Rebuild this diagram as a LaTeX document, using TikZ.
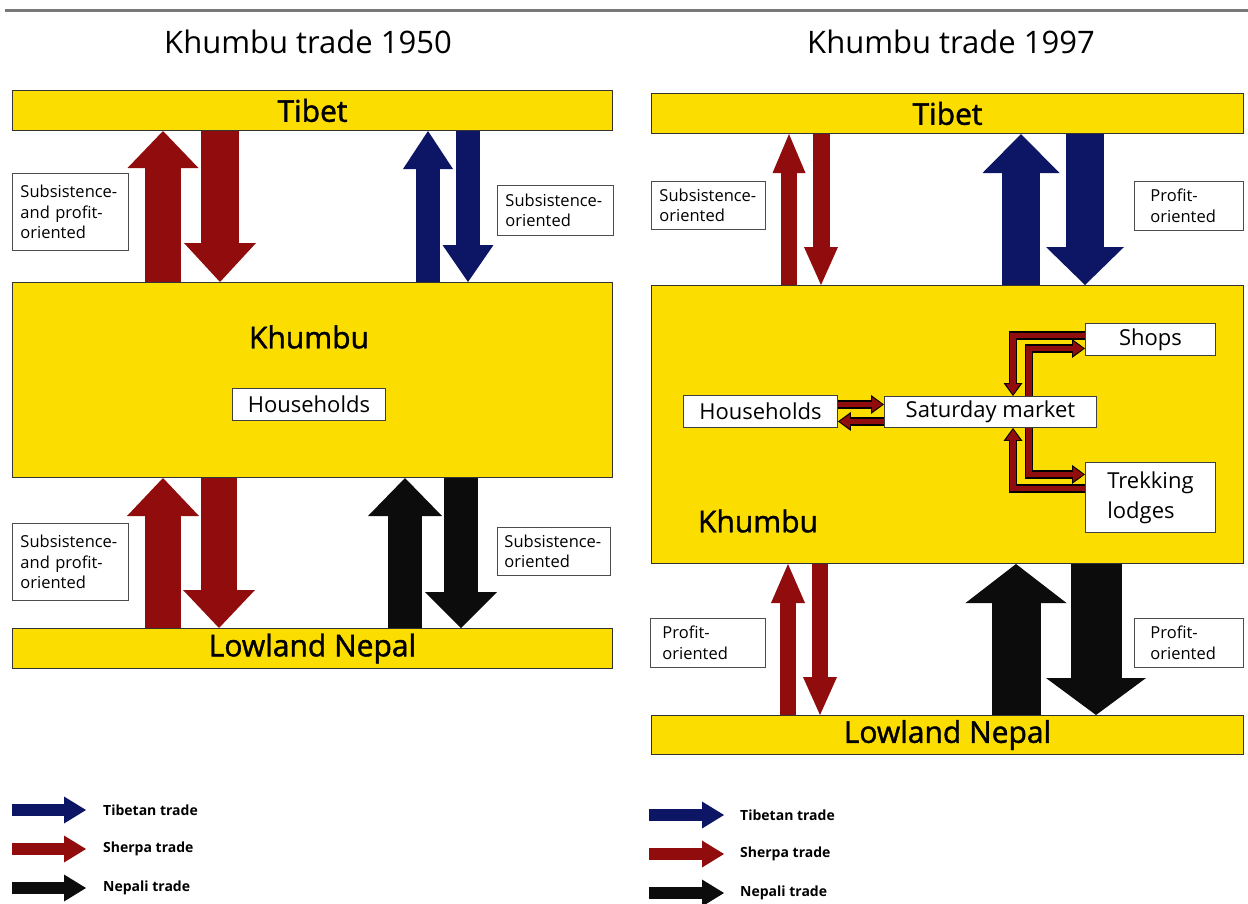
\documentclass[tikz,border=0pt]{standalone}
\usepackage{fontspec}
\setmainfont{Open Sans}
\newfontfamily\semibf[FakeBold=1.4]{Open Sans}
\usetikzlibrary{arrows.meta,calc}
\definecolor{kyellow}{RGB}{252,221,0}
\definecolor{kred}{RGB}{145,12,12}
\definecolor{kblue}{RGB}{12,22,100}
\definecolor{kblack}{RGB}{12,12,12}
\definecolor{kline}{RGB}{120,120,120}
\tikzset{
  bar/.style={draw=black!80,line width=1pt,fill=kyellow,inner sep=0pt,anchor=north west,font=\semibf\fontsize{30}{34}\selectfont},
  lab/.style={draw=black!70,line width=0.9pt,fill=white,anchor=north west,inner ysep=0pt,inner xsep=#1,align=left,font=\fontsize{16.5}{20.5}\selectfont},
  lab/.default=8pt,
  wbox/.style={draw=black!75,line width=0.9pt,fill=white,inner sep=0pt,anchor=north west,align=left,font=\fontsize{22}{30}\selectfont},
  bigtxt/.style={font=\semibf\fontsize{30}{34}\selectfont},
  ttl/.style={font=\fontsize{31}{36}\selectfont},
  legtxt/.style={anchor=west,inner sep=0pt,font=\bfseries\fontsize{14}{16}\selectfont},
  blk/.style n args={3}{line width=#1,-{Triangle[width=#2,length=#3,line width=0pt]}},
  connout/.style={draw=black,line width=8.5pt,-{Triangle[length=13pt,width=19pt,line width=0pt]}},
  connin/.style={draw=kred,line width=5.5pt,-{Triangle[length=10.5pt,width=14.5pt,line width=0pt]},shorten >=1.6pt}
}
\newcommand\kconn[1]{\draw[connout] #1; \draw[connin] #1;}
\begin{document}
\begin{tikzpicture}[x=1pt,y=-1pt]
\useasboundingbox (0,0) rectangle (1248,903);
\fill[white] (0,0) rectangle (1248,903);
% top rule
\draw[kline,line width=3pt] (5,10) -- (1248,10);

% ================= 1950 =================
\node[ttl] (ttlL) at (308,42) {Khumbu trade 1950};
\node[bar,minimum width=600pt,minimum height=40pt] (tibL) at (12,90) {Tibet};
\node[bar,minimum width=600pt,minimum height=195pt] (khL) at (12,282) {};
\node[bigtxt] (khLt) at (309,337) {Khumbu};
\node[wbox,minimum width=153pt,minimum height=32pt] (hhL) at (232,388) {Households};
\node[bar,minimum width=600pt,minimum height=40pt] (nepL) at (12,628) {Lowland Nepal};

\coordinate (xa1) at (163,0);
\coordinate (xa2) at (220,0);
\coordinate (xa3) at (428,0);
\coordinate (xa4) at (468,0);
\coordinate (xb1) at (163,0);
\coordinate (xb2) at (219,0);
\coordinate (xb3) at (405,0);
\coordinate (xb4) at (461,0);

\draw[blk={36pt}{71pt}{37pt},kred] (xa1 |- khL.north) -- (xa1 |- tibL.south);
\draw[blk={38pt}{72pt}{39pt},kred] (xa2 |- tibL.south) -- (xa2 |- khL.north);
\draw[blk={24pt}{50pt}{38pt},kblue] (xa3 |- khL.north) -- (xa3 |- tibL.south);
\draw[blk={24pt}{51pt}{37pt},kblue] (xa4 |- tibL.south) -- (xa4 |- khL.north);

\draw[blk={36pt}{72pt}{38pt},kred] (xb1 |- nepL.north) -- (xb1 |- khL.south);
\draw[blk={36pt}{72pt}{38pt},kred] (xb2 |- khL.south) -- (xb2 |- nepL.north);
\draw[blk={34pt}{74pt}{38pt},kblack] (xb3 |- nepL.north) -- (xb3 |- khL.south);
\draw[blk={34pt}{72pt}{36pt},kblack] (xb4 |- khL.south) -- (xb4 |- nepL.north);

\node[lab,text width=100pt,minimum height=77pt] (lab1) at (12,173) {Subsistence-\\and profit-\\oriented};
\node[lab,text width=100pt,minimum height=50pt] (lab2) at (497,185) {Subsistence-\\oriented};
\node[lab,text width=100pt,minimum height=77pt] (lab3) at (12,523) {Subsistence-\\and profit-\\oriented};
\node[lab=7pt,text width=99pt,minimum height=48pt] (lab4) at (497,527) {Subsistence-\\oriented};

% ================= 1997 =================
\node[ttl] (ttlR) at (951,42) {Khumbu trade 1997};
\node[bar,minimum width=592pt,minimum height=40pt] (tibR) at (651,93) {Tibet};
\node[bar,minimum width=592pt,minimum height=278pt] (khR) at (651,285) {};
\node[bigtxt] (khRt) at (758,521) {Khumbu};
\node[bar,minimum width=592pt,minimum height=39pt] (nepR) at (651,715) {Lowland Nepal};

\coordinate (xc1) at (789,0);
\coordinate (xc2) at (821,0);
\coordinate (xc3) at (1021,0);
\coordinate (xc4) at (1085,0);
\coordinate (xd1) at (788,0);
\coordinate (xd2) at (820,0);
\coordinate (xd3) at (1016,0);
\coordinate (xd4) at (1096,0);

\draw[blk={16pt}{33pt}{39pt},kred] (xc1 |- khR.north) -- (xc1 |- tibR.south);
\draw[blk={17pt}{34pt}{38pt},kred] (xc2 |- tibR.south) -- (xc2 |- khR.north);
\draw[blk={38pt}{77pt}{39pt},kblue] (xc3 |- khR.north) -- (xc3 |- tibR.south);
\draw[blk={38pt}{78pt}{38pt},kblue] (xc4 |- tibR.south) -- (xc4 |- khR.north);

\draw[blk={16pt}{34pt}{39pt},kred] (xd1 |- nepR.north) -- (xd1 |- khR.south);
\draw[blk={16pt}{34pt}{38pt},kred] (xd2 |- khR.south) -- (xd2 |- nepR.north);
\draw[blk={49pt}{101pt}{39pt},kblack] (xd3 |- nepR.north) -- (xd3 |- khR.south);
\draw[blk={51pt}{100pt}{37pt},kblack] (xd4 |- khR.south) -- (xd4 |- nepR.north);

\node[lab,text width=98pt,minimum height=48pt] (lab5) at (651,181) {Subsistence-\\oriented};
\node[lab=16pt,text width=77pt,minimum height=49pt] (lab6) at (1134,181) {Profit-\\oriented};
\node[lab=12pt,text width=91pt,minimum height=49pt] (lab7) at (650,618) {Profit-\\oriented};
\node[lab=16pt,text width=77pt,minimum height=49pt] (lab8) at (1134,618) {Profit-\\oriented};

% inner Khumbu nodes
\node[wbox,minimum width=154pt,minimum height=32pt] (hhR) at (683,395) {Households};
\node[wbox,minimum width=212pt,minimum height=31pt] (sm) at (884,396) {Saturday market};
\node[wbox,minimum width=130pt,minimum height=32pt] (shops) at (1085,323) {Shops};
\node[wbox,minimum width=130pt,minimum height=70pt] (trek) at (1085,462) {Trekking\\lodges};

\coordinate (h1) at ($(hhR.east)+(0,-7)$);
\coordinate (h2) at ($(hhR.east)+(0,10)$);
\coordinate (s1) at ($(shops.west)+(0,-4)$);
\coordinate (s2) at ($(shops.west)+(0,9)$);
\coordinate (t1) at ($(trek.west)+(0,-9)$);
\coordinate (t2) at ($(trek.west)+(0,-23)$);
\coordinate (vx1) at (1013,0);
\coordinate (vx2) at (1029,0);

\kconn{(h1) -- (h1 -| sm.west)}
\kconn{(h2 -| sm.west) -- (h2)}
\kconn{(s1) -| (vx1 |- sm.north)}
\kconn{(vx2 |- sm.north) |- (s2)}
\kconn{(t1) -| (vx1 |- sm.south)}
\kconn{(vx2 |- sm.south) |- (t2)}

% ================= legends =================
\node[legtxt] (lgL1) at (103,810) {Tibetan trade};
\node[legtxt] (lgL2) at (103,849) {Sherpa trade};
\node[legtxt] (lgL3) at (103,888) {Nepali trade};
\coordinate (lgL1a) at (12,810);  \coordinate (lgL1b) at (86,810);
\coordinate (lgL2a) at (12,849);  \coordinate (lgL2b) at (86,849);
\coordinate (lgL3a) at (12,888);  \coordinate (lgL3b) at (86,888);
\draw[blk={12pt}{27pt}{22pt},kblue] (lgL1a) -- (lgL1b);
\draw[blk={12pt}{27pt}{22pt},kred] (lgL2a) -- (lgL2b);
\draw[blk={12pt}{27pt}{22pt},kblack] (lgL3a) -- (lgL3b);

\node[legtxt] (lgR1) at (740,815) {Tibetan trade};
\node[legtxt] (lgR2) at (740,854) {Sherpa trade};
\node[legtxt] (lgR3) at (740,893) {Nepali trade};
\coordinate (lgR1a) at (649,815);  \coordinate (lgR1b) at (724,815);
\coordinate (lgR2a) at (649,854);  \coordinate (lgR2b) at (724,854);
\coordinate (lgR3a) at (649,893);  \coordinate (lgR3b) at (724,893);
\draw[blk={12pt}{27pt}{22pt},kblue] (lgR1a) -- (lgR1b);
\draw[blk={12pt}{27pt}{22pt},kred] (lgR2a) -- (lgR2b);
\draw[blk={12pt}{27pt}{22pt},kblack] (lgR3a) -- (lgR3b);
\end{tikzpicture}
\end{document}
